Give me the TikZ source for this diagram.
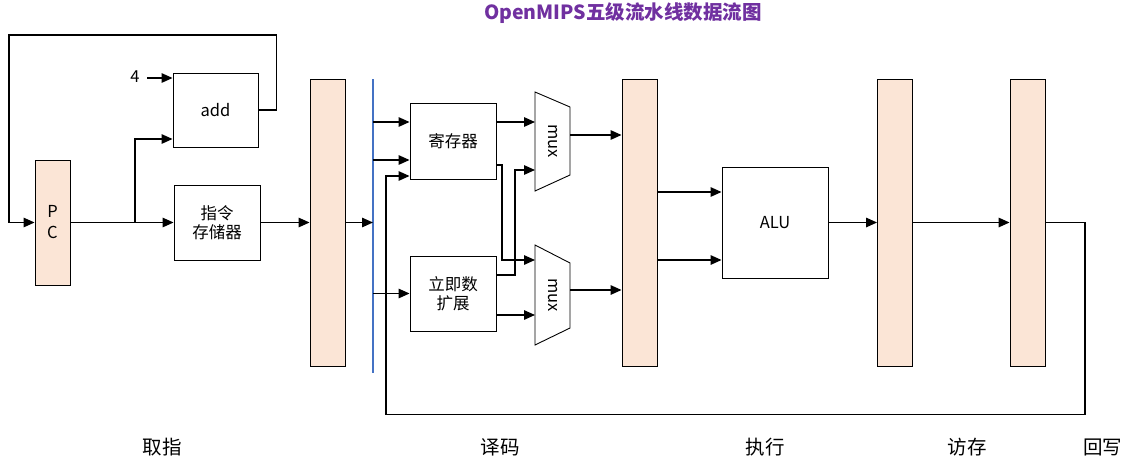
\documentclass[tikz,border=0pt]{standalone}
\usepackage{fontspec}
\setmainfont{Noto Sans CJK SC}
\usetikzlibrary{arrows.meta,calc}
\definecolor{peach}{HTML}{FBE5D6}
\definecolor{titlepurple}{HTML}{7030A0}
\definecolor{busblue}{HTML}{4472C4}
\begin{document}
\begin{tikzpicture}[x=1pt,y=-1pt,
  every node/.style={font=\fontsize{16.5}{19}\selectfont},
  unit/.style={draw,line width=0.9pt,fill=white,minimum width=#1,inner sep=0pt,align=center},
  pipereg/.style={draw,line width=0.9pt,fill=peach,minimum width=35pt,minimum height=287pt,inner sep=0pt},
  arr/.style={line width=1.4pt,-{Triangle[length=11pt,width=9.5pt]}},
  wire/.style={line width=1.4pt},
  stage/.style={font=\fontsize{19.5}{22}\selectfont}]
\useasboundingbox (0,0) rectangle (1134,471);
% title
\node[text=titlepurple,font=\bfseries\fontsize{19.5}{21}\selectfont] (title) at (623,13) {OpenMIPS五级流水线数据流图};
% IF stage
\node[draw,line width=0.9pt,fill=peach,minimum width=35pt,minimum height=125pt,inner sep=0pt,align=center] (pc) at (52.5,222.5) {P\\[2pt]C};
\node[unit=85pt,minimum height=74pt] (add) at (215.5,110) {add};
\node[unit=86pt,minimum height=75pt] (imem) at (217,222.5) {指令\\存储器};
\node (four) at (135,77) {4};
\node[pipereg] (ifid) at (327.5,222.5) {};
% ID stage
\coordinate (bustop) at (373,79);
\coordinate (busbot) at (373,373);
\draw[busblue,line width=1.2pt] (bustop) -- (busbot);
\node[unit=86pt,minimum height=76pt] (reg) at (453,141) {寄存器};
\node[unit=86pt,minimum height=75pt] (imm) at (453,293.5) {立即数\\扩展};
% muxes
\draw[line width=0.9pt,fill=white] (535,92) coordinate (m1a) -- (570,107) -- (570,175) -- (535,191) coordinate (m1b) -- cycle;
\node[rotate=-90] (mux1) at (552.5,141) {mux};
\draw[line width=0.9pt,fill=white] (535,245) coordinate (m2a) -- (570,263) -- (570,328) -- (535,345) coordinate (m2b) -- cycle;
\node[rotate=-90] (mux2) at (552.5,295) {mux};
\node[pipereg] (idex) at (639.5,222.5) {};
% EX
\node[unit=106pt,minimum height=111pt] (alu) at (775,222.5) {ALU};
\node[pipereg] (exmem) at (895,222.5) {};
\node[pipereg] (memwb) at (1027.5,222.5) {};
% stage labels
\node[stage] (s1) at (162,447) {取指};
\node[stage] (s2) at (500,447) {译码};
\node[stage] (s3) at (765,447) {执行};
\node[stage] (s4) at (967,447) {访存};
\node[stage] (s5) at (1102.5,447) {回写};
% IF wires
\draw[arr] (pc.east) -- (imem.west);
\coordinate (j1) at (135,222.5);
\draw[arr] (j1) |- (add.west |- 0,139);
\draw[arr] (147,78) -- (add.west |- 0,78);
\draw[arr] (add.east) -- ++(18,0) |- (9,35) |- (pc.west);
\draw[arr] (imem.east) -- (ifid.west);
\draw[arr] (ifid.east) -- (bustop |- 0,222.5);
% ID wires
\draw[arr] (bustop |- 0,122) -- (reg.west |- 0,122);
\draw[arr] (bustop |- 0,160) -- (reg.west |- 0,160);
\draw[arr] (bustop |- 0,293.5) -- (imm.west);
\draw[arr] (reg.east |- 0,122) -- (m1a |- 0,122);
\draw[arr] (reg.east |- 0,165) -| (502,260) -- (m2a |- 0,260);
\draw[arr] (imm.east |- 0,275) -| (515,170) -- (m1a |- 0,170);
\draw[arr] (imm.east |- 0,315) -- (m2a |- 0,315);
\draw[arr] (570,135) -- (idex.west |- 0,135);
\draw[arr] (570,290) -- (idex.west |- 0,290);
% EX wires
\draw[arr] (idex.east |- 0,192) -- (alu.west |- 0,192);
\draw[arr] (idex.east |- 0,260) -- (alu.west |- 0,260);
\draw[arr] (alu.east) -- (exmem.west);
\draw[arr] (exmem.east) -- (memwb.west);
% write-back
\draw[arr] (memwb.east) -- (1085,222.5) -- (1085,414.5) -- (386,414.5) -- (386,176) -- (reg.west |- 0,176);
\end{tikzpicture}
\end{document}
